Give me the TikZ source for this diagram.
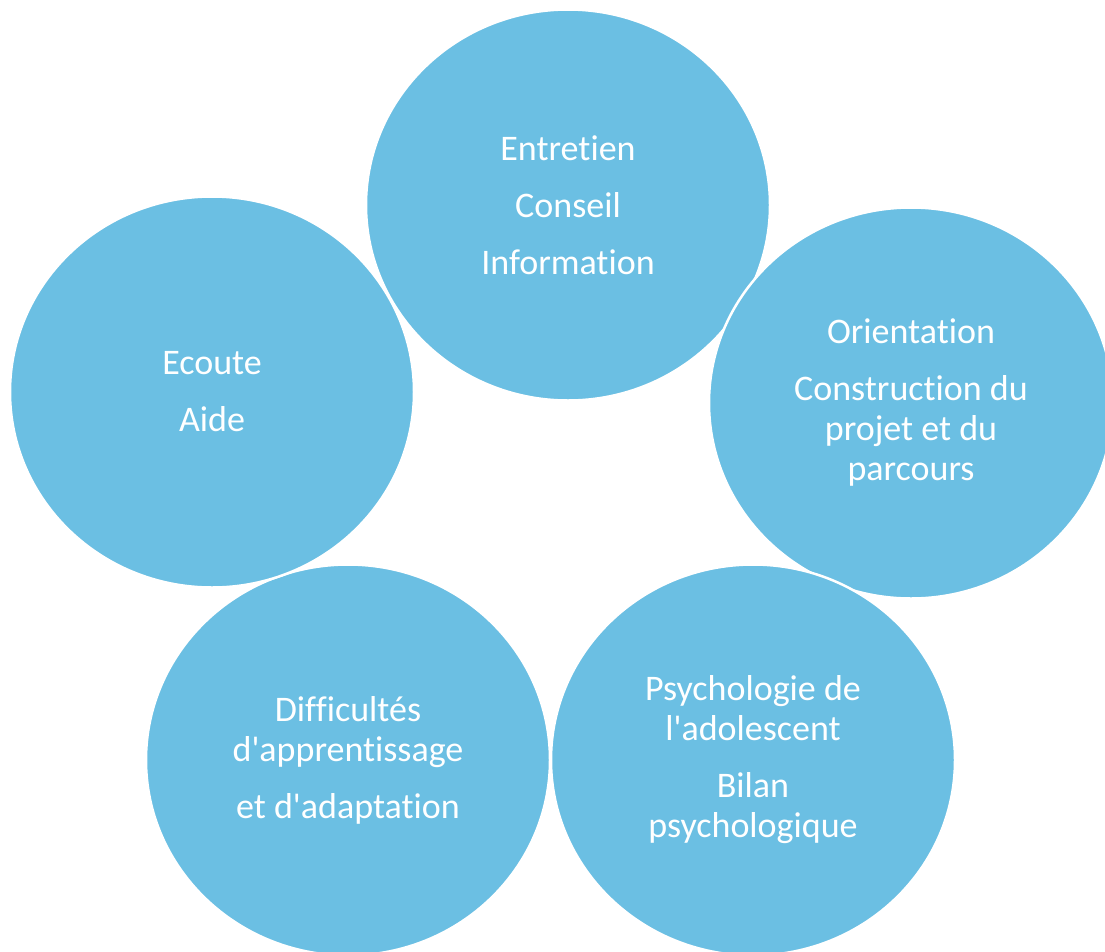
\documentclass[tikz,border=0pt]{standalone}
\usepackage{fontspec}
\setmainfont{Carlito}[Ligatures={NoCommon}]
\usetikzlibrary{shapes.geometric}
\definecolor{bubbleblue}{RGB}{107,191,227}
\newcommand{\apos}{\textquotesingle}
\begin{document}
\begin{tikzpicture}[x=1pt,y=-1pt,
  circ/.style={ellipse, fill=bubbleblue, draw=white, line width=2.5pt,
    minimum width=404pt, minimum height=391pt, inner sep=0pt,
    text=white, align=center, font=\fontsize{36}{40}\selectfont}]
\useasboundingbox (0,0) rectangle (1105,951);
\node[circ] (top) at (568,205) {Entretien\\[17pt]Conseil\\[17pt]Information};
\node[circ] (right) at (911,403) {Orientation\\[17pt]Construction du\\projet et du\\parcours};
\node[circ] (bright) at (753,760) {Psychologie de\\l\apos adolescent\\[17pt]Bilan\\psychologique};
\node[circ] (bleft) at (348,760) {Difficultés\\d\apos apprentissage\\[17pt]et d\apos adaptation};
\node[circ] (left) at (212,392) {Ecoute\\[17pt]Aide};
\end{tikzpicture}
\end{document}
